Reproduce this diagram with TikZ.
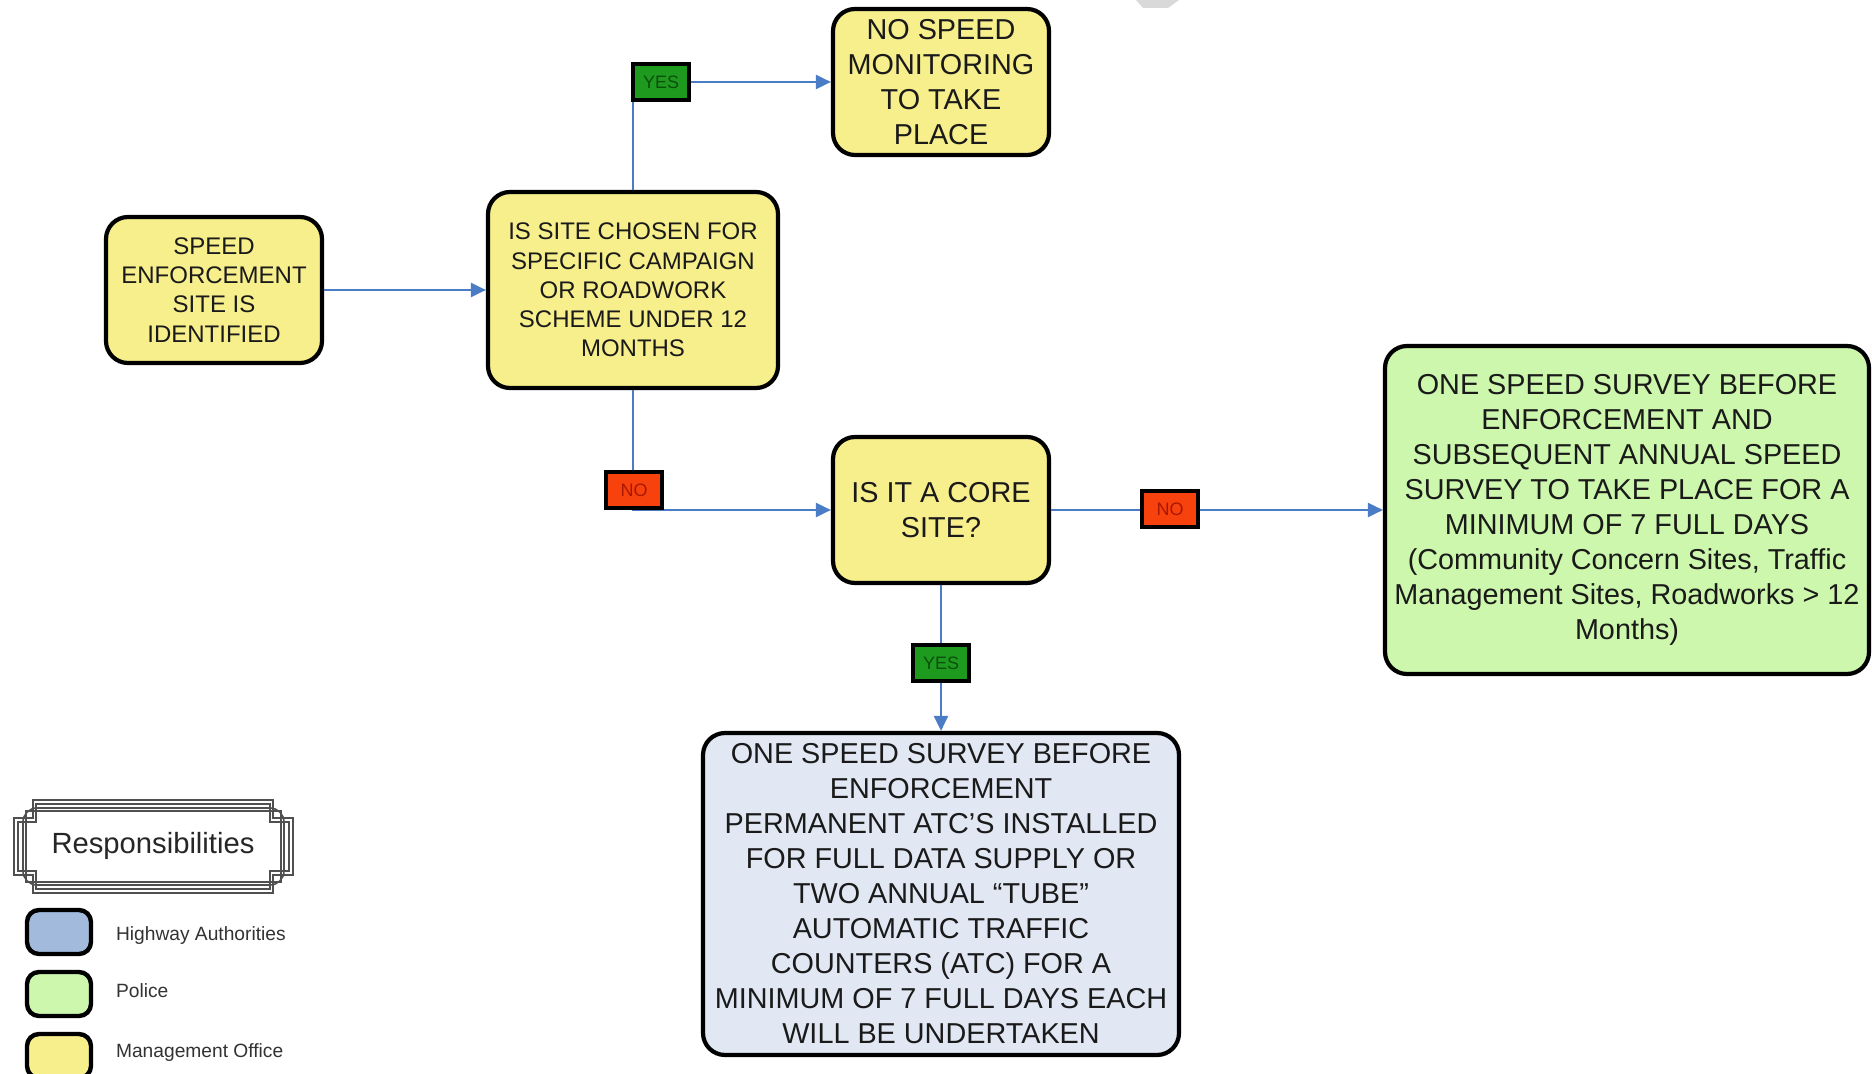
\documentclass[tikz,border=0pt]{standalone}
\usepackage{fontspec}
\setmainfont{Liberation Sans}
\usetikzlibrary{arrows.meta}
\definecolor{boxyellow}{HTML}{F7EE8C}
\definecolor{boxgreen}{HTML}{CDF7AC}
\definecolor{boxblue}{HTML}{E1E7F3}
\definecolor{legblue}{HTML}{A2BADC}
\definecolor{conn}{HTML}{4A7DC6}
\definecolor{yesfill}{HTML}{1E9A1E}
\definecolor{yestext}{HTML}{0B4F0B}
\definecolor{nofill}{HTML}{F8420E}
\definecolor{notext}{HTML}{A81800}
\definecolor{txt}{HTML}{1A1A1A}
\definecolor{legtxt}{HTML}{333333}
\definecolor{framegray}{HTML}{505050}
\begin{document}
\begin{tikzpicture}[x=0.5pt,y=-0.5pt,
  flowbox/.style={draw=black, line width=2.1pt, rounded corners=11pt, align=center, inner sep=1pt, text=txt},
  bigtext/.style={font=\fontsize{14.4}{17.5}\selectfont},
  smalltext/.style={font=\fontsize{12}{14.6}\selectfont},
  connector/.style={draw=conn, line width=1.2pt, -{Triangle[length=7.5pt,width=7pt]}},
  yeslabel/.style={draw=black, line width=1.6pt, fill=yesfill, text=yestext, minimum width=28pt, minimum height=18pt, inner sep=0pt, font=\fontsize{9}{10}\selectfont},
  nolabel/.style={draw=black, line width=1.6pt, fill=nofill, text=notext, minimum width=28pt, minimum height=18pt, inner sep=0pt, font=\fontsize{9}{10}\selectfont},
  swatch/.style={draw=black, line width=2.2pt, rounded corners=6pt, minimum width=32pt, minimum height=22pt},
  legendtext/.style={anchor=west, text=legtxt, font=\fontsize{9.6}{12}\selectfont},
  frameline/.style={draw=framegray, line width=0.8pt}
]
\useasboundingbox (0,0) rectangle (1872,1074);
\fill[white] (0,0) rectangle (1872,1074);

% watermark fragment
\fill[gray!30] (1136,0) -- (1179,0) -- (1168,8) -- (1143,8) -- cycle;

% main boxes
\node[flowbox, smalltext, fill=boxyellow, minimum width=108pt, minimum height=73pt] (speed) at (214,290)
  {SPEED\\ENFORCEMENT\\SITE IS\\IDENTIFIED};
\node[flowbox, smalltext, fill=boxyellow, minimum width=145pt, minimum height=98pt] (question) at (633,290)
  {IS SITE CHOSEN FOR\\SPECIFIC CAMPAIGN\\OR ROADWORK\\SCHEME UNDER 12\\MONTHS};
\node[flowbox, bigtext, fill=boxyellow, minimum width=108pt, minimum height=73pt] (nospeed) at (941,82)
  {NO SPEED\\MONITORING\\TO TAKE\\PLACE};
\node[flowbox, bigtext, fill=boxyellow, minimum width=108pt, minimum height=73pt] (core) at (941,510)
  {IS IT A CORE\\SITE?};
\node[flowbox, bigtext, fill=boxgreen, minimum width=242pt, minimum height=164pt] (green) at (1627,510)
  {ONE SPEED SURVEY BEFORE\\ENFORCEMENT AND\\SUBSEQUENT ANNUAL SPEED\\SURVEY TO TAKE PLACE FOR A\\MINIMUM OF 7 FULL DAYS\\(Community Concern Sites, Traffic\\Management Sites, Roadworks > 12\\Months)};
\node[flowbox, bigtext, fill=boxblue, minimum width=238pt, minimum height=161pt, inner sep=0pt] (blue) at (941,894)
  {ONE SPEED SURVEY BEFORE\\ENFORCEMENT\\PERMANENT ATC’S INSTALLED\\FOR FULL DATA SUPPLY OR\\TWO ANNUAL “TUBE”\\AUTOMATIC TRAFFIC\\COUNTERS (ATC) FOR A\\MINIMUM OF 7 FULL DAYS EACH\\WILL BE UNDERTAKEN};

% connectors
\draw[connector] (speed.east) -- (question.west);
\draw[connector] (question.north) |- (nospeed.west);
\draw[connector] (question.south) |- (core.west);
\draw[connector] (core.east) -- (green.west);
\draw[connector] (core.south) -- (blue.north);

% decision labels
\node[yeslabel] (yes1) at (661,82) {YES};
\node[nolabel] (no1) at (634,490) {NO};
\node[nolabel] (no2) at (1170,509) {NO};
\node[yeslabel] (yes2) at (941,663) {YES};

% legend frame
\fill[white] (30,800) rectangle (276,893);
\draw[frameline] (33,800) -- (273,800) -- (273,818) -- (293,818) -- (293,875) -- (273,875) -- (273,893) -- (33,893) -- (33,875) -- (14,875) -- (14,818) -- (33,818) -- cycle;
\draw[frameline] (36,804) -- (270,804) -- (270,822) -- (289,822) -- (289,871) -- (270,871) -- (270,889) -- (36,889) -- (36,871) -- (18,871) -- (18,822) -- (36,822) -- cycle;
\draw[frameline, rounded corners=7pt] (23,808) rectangle (284,885);
\draw[frameline] (26,811) rectangle (281,882);
\node[text=black!85, font=\fontsize{14.6}{17}\selectfont] (resp) at (153,846) {Responsibilities};

% legend swatches
\node[swatch, fill=legblue] (swblue) at (59,932) {};
\node[swatch, fill=boxgreen] (swgreen) at (59,994) {};
\node[swatch, fill=boxyellow] (swyellow) at (59,1056) {};
\node[legendtext] (lblue) at (109,936) {Highway Authorities};
\node[legendtext] (lgreen) at (109,991) {Police};
\node[legendtext] (lyellow) at (109,1053) {Management Office};
\end{tikzpicture}
\end{document}
